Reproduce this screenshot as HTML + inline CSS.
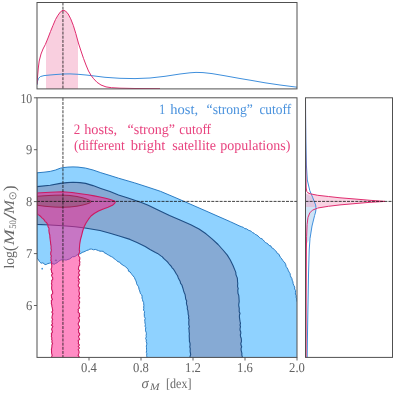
<!DOCTYPE html>
<html><head><meta charset="utf-8"><title>plot</title>
<style>
html,body{margin:0;padding:0;background:#fff;}
body{width:395px;height:394px;overflow:hidden;font-family:"Liberation Serif",serif;}
svg{display:block;will-change:transform;}
text{font-family:"Liberation Serif",serif;text-rendering:geometricPrecision;}
</style></head><body>
<svg width="395" height="394" viewBox="0 0 395 394">
<rect width="395" height="394" fill="#fff"/>
<defs>
<clipPath id="cm"><rect x="37" y="97.8" width="260" height="259.6"/></clipPath>
<clipPath id="ct"><rect x="37" y="2.5" width="260" height="86.4"/></clipPath>
<clipPath id="cr"><rect x="305.5" y="97.8" width="87" height="259.6"/></clipPath>
</defs>

<g clip-path="url(#cm)">
<path d="M37.0,172.8 L44.0,172.2 L50.2,171.4 L55.3,170.1 L60.3,168.2 L64.0,167.5 L67.9,167.1 L73.0,166.9 L78.0,167.1 L85.6,168.1 L93.0,170.0 L100.8,172.7 L110.0,175.5 L118.5,178.2 L134.7,182.9 L148.0,187.2 L160.4,191.3 L172.0,196.2 L183.2,201.0 L195.0,206.2 L206.0,211.0 L218.0,216.3 L230.3,221.7 L240.0,226.2 L241.7,226.8 L243.4,227.4 L244.8,228.6 L246.7,228.9 L248.2,230.1 L249.9,230.7 L251.4,231.4 L252.5,232.6 L254.0,233.2 L255.2,234.4 L256.7,235.0 L258.0,236.0 L259.2,237.1 L260.3,238.3 L262.0,238.8 L263.2,239.9 L264.2,241.2 L265.3,242.5 L266.8,243.2 L268.1,244.1 L269.1,245.5 L270.9,245.9 L271.5,247.6 L273.0,248.4 L274.3,249.5 L275.5,250.6 L276.5,251.9 L277.3,253.4 L278.9,254.2 L279.7,256.0 L280.6,257.5 L281.8,258.9 L282.7,260.5 L284.1,261.8 L285.2,263.3 L285.8,264.8 L286.1,266.5 L287.0,267.8 L287.9,269.3 L288.4,270.8 L289.2,272.2 L290.1,273.6 L290.3,275.4 L290.9,277.0 L291.9,278.5 L292.2,280.2 L292.9,281.8 L293.1,283.7 L293.8,285.4 L294.7,287.1 L294.6,289.0 L295.6,290.5 L295.5,292.3 L295.4,294.0 L296.2,295.6 L296.1,297.3 L296.7,298.8 L297.0,301.1 L298.0,303.0 L298.0,358.4 L146.6,358.4 L146.9,356.9 L146.6,355.3 L146.9,353.8 L146.3,352.3 L146.6,350.7 L146.5,349.2 L146.5,347.7 L146.3,346.1 L146.7,344.6 L146.8,343.1 L146.2,341.5 L146.4,340.0 L145.6,338.5 L146.3,336.9 L146.1,335.4 L146.4,333.8 L146.2,332.3 L145.5,330.8 L145.5,329.2 L145.8,327.7 L145.0,326.2 L145.4,324.6 L145.0,323.1 L144.9,321.6 L144.7,320.1 L145.3,318.3 L144.4,316.7 L144.3,315.0 L144.3,313.3 L144.6,311.6 L143.5,310.1 L143.8,308.5 L143.7,307.0 L143.9,305.4 L143.7,303.9 L143.6,302.4 L142.8,301.0 L142.5,299.5 L142.0,298.1 L142.1,296.5 L141.8,295.0 L140.5,293.8 L140.1,292.3 L139.7,290.9 L139.1,289.5 L138.8,287.9 L138.3,286.4 L137.4,285.1 L136.6,283.7 L136.4,282.1 L135.8,280.7 L135.0,279.0 L134.3,277.3 L133.1,275.9 L131.9,274.5 L131.0,273.2 L130.0,271.9 L128.5,271.2 L128.2,269.3 L127.0,268.2 L125.9,267.1 L124.6,266.1 L123.2,265.4 L122.0,264.4 L120.6,263.6 L119.8,262.2 L118.0,261.7 L116.7,260.6 L115.4,259.5 L114.0,258.5 L112.8,257.4 L111.3,256.6 L109.9,255.9 L108.6,255.1 L107.2,254.4 L106.0,253.4 L104.5,253.0 L103.5,251.4 L101.8,251.2 L100.0,251.2 L98.5,250.6 L96.9,250.0 L95.3,249.4 L93.6,249.8 L91.7,249.1 L89.9,249.1 L88.4,250.0 L86.8,250.4 L85.4,251.2 L83.8,251.9 L82.1,252.4 L80.9,253.4 L79.5,254.0 L76.9,255.0 L75.6,256.1 L74.2,256.7 L72.3,256.8 L71.0,258.0 L69.6,259.0 L68.0,259.4 L66.1,260.1 L64.2,259.8 L62.2,259.7 L60.2,260.3 L58.6,261.4 L57.1,262.7 L55.7,263.4 L54.2,264.3 L52.1,263.4 L50.5,262.8 L49.2,263.3 L47.9,263.5 L46.6,264.3 L45.1,264.6 L42.9,262.8 L41.1,263.2 L40.1,262.3 L39.3,261.3 L38.6,260.1 L37.8,258.8 L37.0,258.5 Z" fill="#8fd2ff" stroke="#2b7cc3" stroke-width="1" stroke-linejoin="round"/>
<circle cx="42.2" cy="268.7" r="0.85" fill="#3a8fd8"/>
<path d="M37.0,186.6 L50.2,185.3 L60.3,183.4 L67.0,182.6 L73.0,182.3 L80.0,182.6 L85.6,183.4 L93.0,185.6 L100.8,188.4 L110.0,191.6 L118.5,194.9 L128.0,198.0 L134.7,200.2 L142.0,202.8 L148.2,205.2 L158.0,210.0 L169.5,215.6 L180.0,220.0 L190.8,224.7 L199.0,229.0 L206.0,233.8 L212.0,238.8 L218.1,244.5 L223.0,250.0 L227.3,255.1 L230.3,260.0 L233.0,265.5 L235.1,270.6 L235.8,272.4 L235.9,274.3 L236.5,276.1 L237.3,277.9 L237.5,279.7 L237.5,281.5 L237.8,283.3 L237.6,285.1 L237.6,286.9 L238.2,288.5 L237.8,290.2 L237.9,291.9 L238.0,293.5 L238.7,295.1 L238.9,296.8 L239.0,298.4 L239.1,300.0 L239.2,301.7 L238.9,303.4 L238.7,305.0 L238.9,306.7 L239.3,308.3 L239.2,310.0 L239.2,311.7 L240.0,313.3 L239.5,315.0 L239.4,316.7 L239.6,318.4 L239.8,320.0 L240.1,321.7 L240.5,323.3 L240.0,325.0 L240.5,326.7 L240.1,328.3 L240.0,330.0 L240.7,331.7 L240.8,333.3 L240.3,335.0 L240.6,336.7 L241.2,338.3 L241.4,340.0 L241.4,341.7 L240.8,343.4 L241.0,345.0 L241.7,346.7 L241.1,348.4 L241.1,350.1 L241.5,351.7 L241.9,353.4 L241.8,355.1 L242.3,356.7 L242.0,358.4 L190.5,358.4 L190.0,356.5 L190.7,354.6 L190.3,352.7 L190.1,350.7 L190.3,348.8 L189.8,346.9 L190.1,345.0 L190.0,343.1 L189.4,341.3 L189.4,339.4 L189.3,337.5 L189.2,335.6 L189.4,333.7 L189.1,331.9 L189.1,330.0 L188.8,328.3 L189.4,326.6 L188.8,324.9 L188.8,323.1 L188.8,321.4 L189.0,319.7 L188.5,318.0 L188.8,316.1 L188.2,314.3 L188.1,312.4 L187.9,310.6 L187.3,308.8 L187.4,306.8 L186.8,304.9 L186.4,303.0 L186.7,300.9 L185.7,299.0 L185.4,296.8 L185.1,294.6 L184.3,292.8 L183.6,290.9 L183.1,288.9 L182.5,287.0 L181.9,285.0 L180.6,283.3 L180.1,281.2 L179.1,279.4 L178.2,277.7 L177.6,275.8 L176.5,274.2 L175.5,272.5 L174.5,270.8 L173.5,269.2 L172.1,267.8 L171.1,266.1 L169.9,264.8 L168.7,263.5 L167.7,262.1 L166.4,260.8 L165.0,259.6 L163.6,258.4 L162.4,256.9 L160.9,255.9 L159.2,254.6 L157.5,253.4 L155.5,252.5 L150.0,249.5 L145.2,246.5 L137.0,242.6 L130.0,239.4 L120.0,236.3 L110.0,233.2 L100.0,230.5 L85.0,228.0 L75.0,226.8 L63.0,225.7 L50.0,225.0 L37.0,224.4 Z" fill="#86aad4" stroke="#1f4f86" stroke-width="1.1" stroke-linejoin="round"/>
<path d="M37.0,193.0 L50.0,192.2 L62.3,191.8 L72.0,192.5 L80.6,193.7 L88.0,194.8 L94.2,195.9 L100.0,197.0 L105.6,198.3 L109.5,199.3 L112.4,200.2 L114.5,201.1 L115.3,202.1 L114.6,203.4 L112.4,205.3 L108.0,207.3 L103.3,208.9 L98.5,211.0 L94.2,213.5 L91.0,216.0 L88.5,219.2 L86.0,223.0 L84.0,227.1 L82.7,231.0 L81.7,235.1 L80.5,239.5 L79.7,244.2 L79.3,250.0 L79.7,251.5 L79.2,253.0 L78.5,254.5 L78.6,256.0 L79.8,257.5 L79.8,259.0 L79.3,260.5 L79.9,262.0 L79.6,263.5 L79.8,265.0 L78.8,266.4 L78.6,267.9 L78.4,269.3 L79.7,270.7 L78.7,272.1 L78.8,273.6 L79.7,275.0 L78.4,276.4 L78.2,277.9 L79.5,279.3 L78.3,280.7 L79.2,282.1 L79.0,283.6 L78.2,285.0 L78.4,286.4 L79.6,287.9 L79.1,289.3 L78.9,290.7 L79.2,292.1 L79.5,293.6 L79.3,295.0 L78.6,296.4 L79.8,297.9 L78.8,299.3 L79.0,300.7 L79.7,302.1 L79.2,303.6 L78.7,305.0 L78.9,306.4 L79.6,307.9 L78.1,309.3 L78.4,310.7 L78.1,312.1 L79.6,313.6 L79.3,315.0 L79.7,316.4 L78.4,317.9 L79.3,319.3 L79.5,320.7 L79.0,322.1 L78.2,323.6 L78.4,325.0 L79.3,326.4 L79.5,327.9 L78.2,329.3 L78.8,330.7 L78.5,332.1 L79.6,333.6 L79.6,335.0 L78.5,336.4 L79.0,337.9 L79.6,339.3 L78.1,340.7 L78.6,342.1 L78.3,343.6 L79.5,345.0 L78.2,346.5 L79.5,348.0 L78.2,349.5 L78.9,351.0 L79.1,352.4 L78.7,353.9 L78.1,355.4 L79.2,356.9 L78.8,358.4 L52.2,358.4 L51.6,356.9 L52.2,355.4 L51.8,353.9 L51.5,352.4 L51.6,351.0 L51.4,349.5 L51.7,348.0 L51.9,346.5 L51.9,345.0 L52.6,343.6 L51.8,342.1 L52.2,340.7 L51.6,339.3 L51.9,337.9 L51.3,336.4 L51.7,335.0 L51.3,333.6 L52.5,332.1 L52.2,330.7 L51.6,329.3 L52.1,327.9 L52.8,326.4 L51.4,325.0 L52.6,323.6 L52.0,322.1 L52.1,320.7 L52.7,319.3 L51.9,317.9 L52.1,316.4 L52.4,315.0 L52.9,313.6 L51.8,312.1 L52.7,310.7 L52.5,309.3 L52.3,307.9 L51.9,306.4 L51.8,305.0 L51.3,303.6 L51.5,302.1 L51.3,300.7 L52.5,299.3 L51.6,297.9 L51.5,296.4 L51.3,295.0 L52.6,293.6 L52.7,292.1 L52.3,290.7 L51.7,289.3 L51.6,287.9 L51.7,286.4 L51.9,285.0 L51.4,283.6 L51.9,282.1 L51.6,280.7 L52.7,279.3 L52.7,277.8 L52.0,276.4 L51.5,275.0 L52.7,273.6 L51.5,272.1 L51.6,270.7 L51.0,269.3 L51.6,267.9 L51.8,266.4 L51.8,265.0 L51.3,263.5 L51.7,262.0 L50.8,260.5 L51.2,259.0 L50.9,257.5 L51.4,256.0 L50.7,254.5 L50.7,253.0 L51.1,251.5 L51.4,250.0 L51.0,248.3 L51.1,246.5 L50.7,244.2 L50.5,242.0 L50.2,239.7 L49.9,237.4 L49.8,235.2 L49.2,233.0 L48.9,230.7 L49.0,228.2 L48.0,226.7 L47.9,224.9 L46.5,222.5 L45.1,221.6 L44.3,220.1 L43.2,218.9 L41.9,217.9 L40.8,216.7 L39.6,215.5 L38.1,214.6 L37.0,213.3 Z" fill="#ff1a8a" fill-opacity="0.5" stroke="#cc1a62" stroke-width="1.1" stroke-linejoin="round"/>
<ellipse cx="55.9" cy="260.4" rx="1.2" ry="0.8" fill="#9a55a8"/>
<path d="M37.0,196.3 L45.0,195.7 L55.0,195.2 L63.0,195.1 L70.0,195.5 L77.0,196.5 L83.0,197.9 L87.0,199.2 L90.0,200.5 L91.3,201.6 L90.0,202.8 L87.0,203.9 L83.0,205.0 L77.0,206.2 L70.0,207.0 L63.0,207.3 L55.0,207.1 L45.0,206.3 L37.0,205.2 Z" fill="#5f4a40" fill-opacity="0.32" stroke="#9c1a4c" stroke-width="0.85" stroke-linejoin="round"/>
</g>
<line x1="62.95" y1="97.8" x2="62.95" y2="357.4" stroke="#111" stroke-width="0.8" stroke-dasharray="3,1.15"/>
<line x1="37.0" y1="201.4" x2="297.0" y2="201.4" stroke="#111" stroke-width="0.8" stroke-dasharray="3,1.15"/>
<g clip-path="url(#ct)">
<path d="M46.0,88.9 L46.0,43.3 L48.0,38.0 L50.5,31.5 L53.0,25.4 L55.5,19.5 L58.0,15.2 L60.5,11.8 L63.0,10.2 L65.5,11.0 L68.2,14.0 L70.7,18.8 L73.3,25.4 L75.8,33.5 L78.0,41.5 L78.0,88.9 Z" fill="#f9cfdf"/>
<path d="M37.0,85.0 L37.6,81.0 L38.5,78.5 L40.3,76.6 L44.0,75.6 L50.0,75.0 L56.0,74.5 L63.0,74.0 L70.0,73.9 L78.0,74.3 L86.0,75.0 L93.0,75.8 L105.0,77.3 L120.0,78.3 L135.0,78.6 L150.0,78.0 L165.0,76.3 L180.0,74.0 L190.0,72.8 L196.0,72.4 L203.0,72.6 L212.0,73.6 L225.0,75.8 L240.0,78.5 L252.0,80.5 L265.0,82.8 L280.0,85.0 L297.0,87.2" fill="none" stroke="#3f8fdc" stroke-width="1" stroke-linejoin="round"/>
<path d="M37.0,84.0 L37.6,76.0 L38.3,68.0 L39.2,61.0 L41.0,54.0 L43.0,49.0 L45.4,44.4 L48.0,38.0 L50.5,31.5 L53.0,25.4 L55.5,19.5 L58.0,15.2 L60.5,11.8 L63.0,10.2 L65.5,11.0 L68.2,14.0 L70.7,18.8 L73.3,25.4 L75.8,33.5 L78.4,43.0 L81.0,51.0 L83.5,58.4 L86.0,65.0 L88.5,71.0 L91.0,75.3 L93.6,78.7 L97.0,82.3 L101.0,85.0 L106.0,86.9 L111.4,87.7 L120.0,88.2 L135.0,88.5 L160.0,88.7" fill="none" stroke="#e02c6f" stroke-width="1" stroke-linejoin="round"/>
</g>
<line x1="62.95" y1="2.5" x2="62.95" y2="88.9" stroke="#111" stroke-width="0.8" stroke-dasharray="3,1.15"/>
<g clip-path="url(#cr)">
<path d="M305.5,193.0 L312.8,197.8 L315.6,204.9 L316.1,208.4 L315.6,212.0 L314.6,215.5 L312.0,226.0 L310.0,238.6 L305.5,246.0 Z" fill="#cfe4f6"/>
<path d="M305.5,193.5 L309.5,193.5 L310.7,193.9 L317.8,195.3 L328.4,196.5 L340.0,197.8 L355.0,199.0 L370.0,200.3 L385.0,201.4 L370.0,202.3 L355.0,203.6 L340.0,204.9 L328.4,206.3 L317.8,208.0 L318.0,207.0 L305.5,207.0 Z" fill="#f4a9c8" fill-opacity="0.5"/>
<path d="M305.5,97.8 L305.6,115.0 L305.9,140.0 L306.4,165.0 L307.3,180.0 L309.8,190.7 L312.8,197.8 L315.6,204.9 L316.1,208.4 L315.6,212.0 L314.6,215.5 L312.0,226.0 L310.0,238.6 L309.2,250.0 L308.5,275.0 L307.9,310.0 L307.4,340.0 L307.2,357.4" fill="none" stroke="#3f8fdc" stroke-width="1" stroke-linejoin="round"/>
<path d="M305.5,97.8 L305.6,150.0 L305.9,175.0 L306.2,188.0 L306.8,191.5 L308.0,192.9 L310.7,193.9 L317.8,195.3 L328.4,196.5 L340.0,197.8 L355.0,199.0 L370.0,200.3 L385.0,201.4 L370.0,202.3 L355.0,203.6 L340.0,204.9 L328.4,206.3 L317.8,208.0 L312.4,210.2 L309.8,212.9 L308.0,217.3 L307.1,224.4 L306.6,236.8 L306.4,250.0 L306.2,300.0 L306.1,357.4" fill="none" stroke="#e02c6f" stroke-width="1" stroke-linejoin="round"/>
</g>
<line x1="305.5" y1="201.4" x2="392.5" y2="201.4" stroke="#111" stroke-width="0.8" stroke-dasharray="3,1.15"/>
<rect x="37.0" y="97.8" width="260.0" height="259.59999999999997" fill="none" stroke="#505050" stroke-width="1"/>
<rect x="37.0" y="2.5" width="260.0" height="86.4" fill="none" stroke="#505050" stroke-width="1"/>
<rect x="305.5" y="97.8" width="87.0" height="259.59999999999997" fill="none" stroke="#505050" stroke-width="1"/>
<g>
<line x1="89.0" y1="357.4" x2="89.0" y2="360.5" stroke="#505050" stroke-width="0.9"/>
<text x="81.1" y="372.2" font-size="13.5" fill="#626262" textLength="15.8" lengthAdjust="spacingAndGlyphs">0.4</text>
<line x1="141.0" y1="357.4" x2="141.0" y2="360.5" stroke="#505050" stroke-width="0.9"/>
<text x="133.1" y="372.2" font-size="13.5" fill="#626262" textLength="15.8" lengthAdjust="spacingAndGlyphs">0.8</text>
<line x1="193.0" y1="357.4" x2="193.0" y2="360.5" stroke="#505050" stroke-width="0.9"/>
<text x="185.1" y="372.2" font-size="13.5" fill="#626262" textLength="15.8" lengthAdjust="spacingAndGlyphs">1.2</text>
<line x1="245.0" y1="357.4" x2="245.0" y2="360.5" stroke="#505050" stroke-width="0.9"/>
<text x="237.1" y="372.2" font-size="13.5" fill="#626262" textLength="15.8" lengthAdjust="spacingAndGlyphs">1.6</text>
<line x1="297.0" y1="357.4" x2="297.0" y2="360.5" stroke="#505050" stroke-width="0.9"/>
<text x="289.1" y="372.2" font-size="13.5" fill="#626262" textLength="15.8" lengthAdjust="spacingAndGlyphs">2.0</text>
<line x1="33.9" y1="305.5" x2="37.0" y2="305.5" stroke="#505050" stroke-width="0.9"/>
<text x="25.9" y="310.2" font-size="13.5" fill="#626262" textLength="6.3" lengthAdjust="spacingAndGlyphs">6</text>
<line x1="33.9" y1="253.6" x2="37.0" y2="253.6" stroke="#505050" stroke-width="0.9"/>
<text x="25.9" y="258.3" font-size="13.5" fill="#626262" textLength="6.3" lengthAdjust="spacingAndGlyphs">7</text>
<line x1="33.9" y1="201.6" x2="37.0" y2="201.6" stroke="#505050" stroke-width="0.9"/>
<text x="25.9" y="206.3" font-size="13.5" fill="#626262" textLength="6.3" lengthAdjust="spacingAndGlyphs">8</text>
<line x1="33.9" y1="149.7" x2="37.0" y2="149.7" stroke="#505050" stroke-width="0.9"/>
<text x="25.9" y="154.4" font-size="13.5" fill="#626262" textLength="6.3" lengthAdjust="spacingAndGlyphs">9</text>
<line x1="33.9" y1="97.8" x2="37.0" y2="97.8" stroke="#505050" stroke-width="0.9"/>
<text x="20.4" y="102.5" font-size="13.5" fill="#626262" textLength="11.8" lengthAdjust="spacingAndGlyphs">10</text>
<text x="158.9" y="113.7" font-size="14.5" fill="#4a92dd" textLength="6.3" lengthAdjust="spacingAndGlyphs">1</text>
<text x="170.3" y="113.7" font-size="14.5" fill="#4a92dd" textLength="27.8" lengthAdjust="spacingAndGlyphs">host,</text>
<text x="206.6" y="113.7" font-size="14.5" fill="#4a92dd" textLength="46.2" lengthAdjust="spacingAndGlyphs">“strong”</text>
<text x="259.4" y="113.7" font-size="14.5" fill="#4a92dd" textLength="31.8" lengthAdjust="spacingAndGlyphs">cutoff</text>
<text x="73.8" y="133.9" font-size="14.5" fill="#e8437f" textLength="6.5" lengthAdjust="spacingAndGlyphs">2</text>
<text x="84.2" y="133.9" font-size="14.5" fill="#e8437f" textLength="33" lengthAdjust="spacingAndGlyphs">hosts,</text>
<text x="127.5" y="133.9" font-size="14.5" fill="#e8437f" textLength="47.6" lengthAdjust="spacingAndGlyphs">“strong”</text>
<text x="179.3" y="133.9" font-size="14.5" fill="#e8437f" textLength="31.8" lengthAdjust="spacingAndGlyphs">cutoff</text>
<text x="74.0" y="149.8" font-size="14.5" fill="#e8437f" textLength="50.8" lengthAdjust="spacingAndGlyphs">(different</text>
<text x="130.7" y="149.8" font-size="14.5" fill="#e8437f" textLength="34.7" lengthAdjust="spacingAndGlyphs">bright</text>
<text x="172.2" y="149.8" font-size="14.5" fill="#e8437f" textLength="43.8" lengthAdjust="spacingAndGlyphs">satellite</text>
<text x="220.3" y="149.8" font-size="14.5" fill="#e8437f" textLength="70" lengthAdjust="spacingAndGlyphs">populations)</text>
<text x="141.6" y="387.8" font-size="14.5" font-style="italic" fill="#686868">σ</text>
<text x="150" y="390" font-size="10" font-style="italic" fill="#686868" textLength="9.6" lengthAdjust="spacingAndGlyphs">M</text>
<text x="166" y="387.8" font-size="13.8" fill="#686868" textLength="25.5" lengthAdjust="spacingAndGlyphs">[dex]</text>
<g transform="translate(14.0,268.6) rotate(-90)" fill="#686868">
<text x="0" y="0" font-size="14.5" textLength="17.6" lengthAdjust="spacingAndGlyphs">log</text>
<text x="17.4" y="0.8" font-size="16.8">(</text>
<text x="23.4" y="0" font-size="14.5" font-style="italic" textLength="16" lengthAdjust="spacingAndGlyphs">M</text>
<text x="39.8" y="2.4" font-size="10" textLength="8.6" lengthAdjust="spacingAndGlyphs">50</text>
<text x="48.0" y="1.6" font-size="18.5" textLength="8.2" lengthAdjust="spacingAndGlyphs">/</text>
<text x="54.8" y="0" font-size="14.5" font-style="italic" textLength="13.6" lengthAdjust="spacingAndGlyphs">M</text>
<circle cx="72.8" cy="-1.2" r="3.3" fill="none" stroke="#686868" stroke-width="0.75"/><circle cx="72.8" cy="-1.2" r="0.8" fill="#686868"/>
<text x="77.6" y="0.8" font-size="16.8">)</text>
</g>
</g>
</svg></body></html>
